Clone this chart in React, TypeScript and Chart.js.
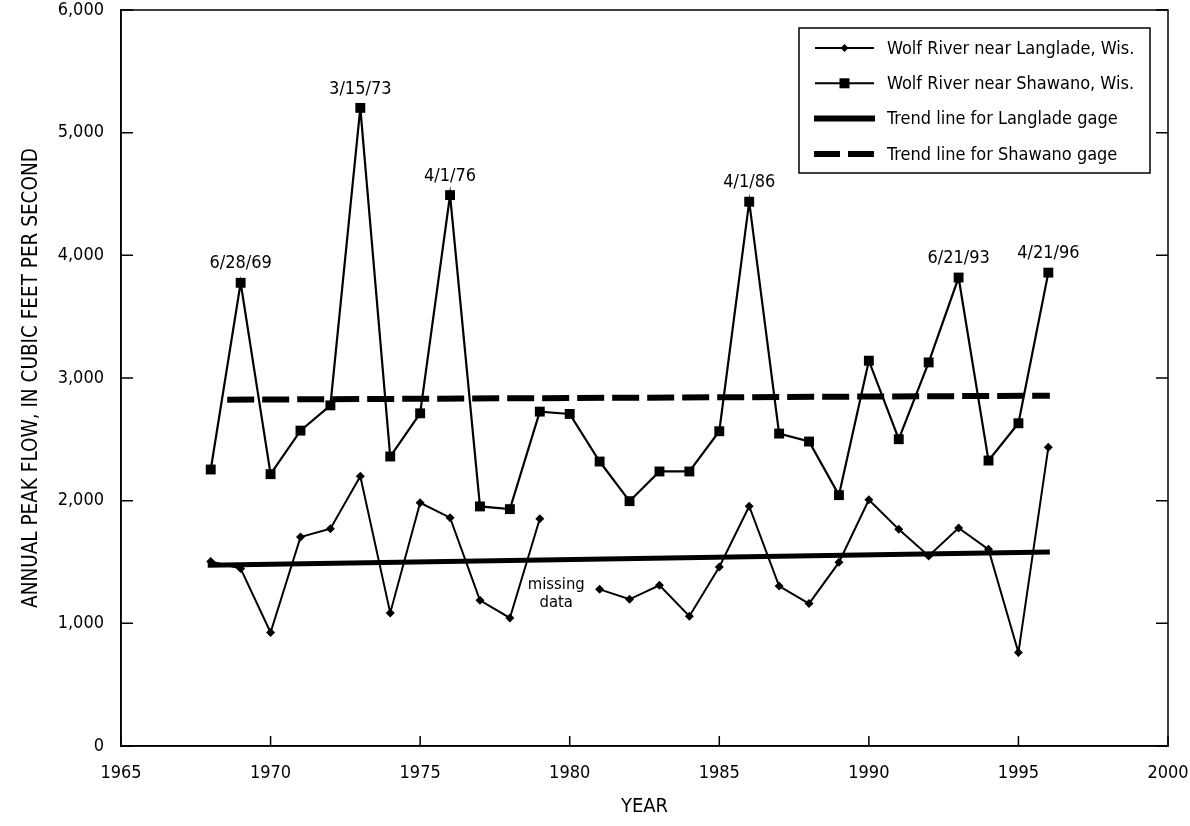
import React, { useEffect, useRef } from 'react';
import { Chart, registerables } from 'chart.js';

Chart.register(...registerables);

const FONT = "'Liberation Sans Narrow', 'DejaVu Sans Condensed', 'Arial Narrow', sans-serif";

// Data (annual peak flow, cubic feet per second)
const years = [1968, 1969, 1970, 1971, 1972, 1973, 1974, 1975, 1976, 1977, 1978, 1979, 1980, 1981, 1982, 1983, 1984, 1985, 1986, 1987, 1988, 1989, 1990, 1991, 1992, 1993, 1994, 1995, 1996];
const langlade = [1505, 1446, 925, 1703, 1771, 2199, 1085, 1983, 1861, 1188, 1044, 1853, null, 1277, 1196, 1310, 1058, 1459, 1955, 1304, 1161, 1497, 2007, 1766, 1549, 1777, 1603, 762, 2435];
const shawano = [2254, 3776, 2216, 2571, 2777, 5202, 2360, 2712, 4491, 1953, 1931, 2726, 2707, 2319, 1996, 2238, 2238, 2566, 4437, 2547, 2482, 2045, 3141, 2501, 3127, 3819, 2327, 2631, 3859];

const langladeTrendYears = [1967.9, 1996.05];
const langladeTrend = [1473, 1581];
const shawanoTrendYears = [1968.55, 1996.05];
const shawanoTrend = [2823, 2856];

const peakYears = [1969, 1973, 1976, 1986, 1993, 1996];
const peakLabels = ['6/28/69', '3/15/73', '4/1/76', '4/1/86', '6/21/93', '4/21/96'];

const missingNote = { year: 1979.55, value: 1318, lines: ['missing', 'data'] };

const xTicks = [1965, 1970, 1975, 1980, 1985, 1990, 1995, 2000];
const yTicks = [0, 1000, 2000, 3000, 4000, 5000, 6000];

const seriesLabels = [
  'Wolf River near Langlade, Wis.',
  'Wolf River near Shawano, Wis.',
  'Trend line for Langlade gage',
  'Trend line for Shawano gage',
];

const toPoints = (xs: number[], ys: (number | null)[]) => xs.map((x, i) => ({ x, y: ys[i] }));

const framePlugin = {
  id: 'frameTicks',
  afterDraw(chart: any) {
    const { ctx, chartArea, scales } = chart;
    const xs = scales.x;
    const ys = scales.y;
    ctx.save();
    ctx.strokeStyle = '#000';
    ctx.lineWidth = 1.5;
    ctx.strokeRect(chartArea.left, chartArea.top, chartArea.right - chartArea.left, chartArea.bottom - chartArea.top);
    ctx.beginPath();
    xTicks.forEach((t) => {
      const px = xs.getPixelForValue(t);
      ctx.moveTo(px, chartArea.bottom);
      ctx.lineTo(px, chartArea.bottom - 10);
    });
    yTicks.forEach((t) => {
      const py = ys.getPixelForValue(t);
      ctx.moveTo(chartArea.left, py);
      ctx.lineTo(chartArea.left + 12, py);
      ctx.moveTo(chartArea.right, py);
      ctx.lineTo(chartArea.right - 12, py);
    });
    ctx.stroke();
    ctx.restore();
  },
};

const annotationPlugin = {
  id: 'annotations',
  afterDatasetsDraw(chart: any) {
    const { ctx, scales } = chart;
    const xs = scales.x;
    const ys = scales.y;
    ctx.save();
    ctx.fillStyle = '#000';
    ctx.font = `18px ${FONT}`;
    ctx.textAlign = 'center';
    ctx.textBaseline = 'middle';
    peakYears.forEach((yr, i) => {
      const idx = years.indexOf(yr);
      const v = shawano[idx];
      const px = xs.getPixelForValue(yr);
      const py = ys.getPixelForValue(v);
      ctx.fillText(peakLabels[i], px, py - 19);
    });
    ctx.font = `16.5px ${FONT}`;
    const mx = xs.getPixelForValue(missingNote.year);
    const my = ys.getPixelForValue(missingNote.value);
    missingNote.lines.forEach((l, i) => ctx.fillText(l, mx, my + i * 18.5));
    ctx.restore();
  },
};

const legendPlugin = {
  id: 'customLegend',
  afterDraw(chart: any) {
    const { ctx, chartArea } = chart;
    const left = chartArea.right - 369;
    const right = chartArea.right - 18;
    const top = chartArea.top + 18;
    const bottom = top + 145;
    ctx.save();
    ctx.fillStyle = '#fff';
    ctx.fillRect(left, top, right - left, bottom - top);
    ctx.strokeStyle = '#000';
    ctx.lineWidth = 1.5;
    ctx.strokeRect(left, top, right - left, bottom - top);
    ctx.font = `18px ${FONT}`;
    ctx.textAlign = 'left';
    ctx.textBaseline = 'middle';
    ctx.fillStyle = '#000';
    const x0 = left + 16;
    const x1 = left + 75;
    seriesLabels.forEach((label, i) => {
      const y = top + 20 + i * 35.3;
      ctx.save();
      ctx.strokeStyle = '#000';
      if (i < 2) {
        ctx.lineWidth = 2;
        ctx.beginPath();
        ctx.moveTo(x0, y);
        ctx.lineTo(x1, y);
        ctx.stroke();
        const cx = (x0 + x1) / 2;
        ctx.fillStyle = '#000';
        if (i === 0) {
          ctx.beginPath();
          ctx.moveTo(cx, y - 4);
          ctx.lineTo(cx + 4, y);
          ctx.lineTo(cx, y + 4);
          ctx.lineTo(cx - 4, y);
          ctx.closePath();
          ctx.fill();
        } else {
          ctx.fillRect(cx - 5, y - 5, 10, 10);
        }
      } else {
        ctx.lineWidth = 6;
        if (i === 3) ctx.setLineDash([26, 8]);
        ctx.beginPath();
        ctx.moveTo(x0 - 1, y);
        ctx.lineTo(x1 + 1, y);
        ctx.stroke();
      }
      ctx.restore();
      ctx.fillText(label, left + 88, y + 1);
    });
    ctx.restore();
  },
};

export default function App() {
  const canvasRef = useRef<HTMLCanvasElement | null>(null);

  useEffect(() => {
    if (!canvasRef.current) return;
    const chart = new Chart(canvasRef.current, {
      type: 'line',
      data: {
        datasets: [
          {
            label: seriesLabels[0],
            data: toPoints(years, langlade),
            borderColor: '#000',
            backgroundColor: '#000',
            borderWidth: 2,
            pointStyle: 'rectRot',
            pointRadius: 4.5,
            pointBorderWidth: 0,
            spanGaps: false,
            tension: 0,
          },
          {
            label: seriesLabels[1],
            data: toPoints(years, shawano),
            borderColor: '#000',
            backgroundColor: '#000',
            borderWidth: 2.2,
            pointStyle: 'rect',
            pointRadius: 7,
            pointBorderWidth: 0,
            tension: 0,
          },
          {
            label: seriesLabels[2],
            data: toPoints(langladeTrendYears, langladeTrend),
            borderColor: '#000',
            borderWidth: 5,
            pointRadius: 0,
            borderCapStyle: 'butt',
          },
          {
            label: seriesLabels[3],
            data: toPoints(shawanoTrendYears, shawanoTrend),
            borderColor: '#000',
            borderWidth: 6,
            borderDash: [27, 8],
            pointRadius: 0,
            borderCapStyle: 'butt',
          },
        ],
      },
      options: {
        animation: false,
        responsive: true,
        maintainAspectRatio: false,
        layout: { padding: { top: 10, right: 22, left: 0, bottom: 0 } },
        plugins: { legend: { display: false }, tooltip: { enabled: false } },
        scales: {
          x: {
            type: 'linear',
            min: 1965,
            max: 2000,
            afterBuildTicks: (scale: any) => {
              scale.ticks = xTicks.map((v) => ({ value: v }));
            },
            afterFit: (scale: any) => {
              scale.height = 80;
              scale.paddingLeft = 0;
              scale.paddingRight = 0;
            },
            grid: { display: false, drawTicks: false },
            border: { display: true, color: '#000', width: 1.5 },
            ticks: {
              color: '#000',
              font: { family: FONT, size: 18 },
              padding: 17,
              maxRotation: 0,
              autoSkip: false,
              callback: (v: any) => String(v),
            },
            title: {
              display: true,
              text: 'YEAR',
              color: '#000',
              font: { family: FONT, size: 20 },
              padding: { top: 0, bottom: 7 },
            },
          },
          y: {
            min: 0,
            max: 6000,
            afterBuildTicks: (scale: any) => {
              scale.ticks = yTicks.map((v) => ({ value: v }));
            },
            afterFit: (scale: any) => {
              scale.width = 121;
              scale.paddingTop = 0;
              scale.paddingBottom = 0;
            },
            grid: { display: false, drawTicks: false },
            border: { display: true, color: '#000', width: 1.5 },
            ticks: {
              color: '#000',
              font: { family: FONT, size: 18 },
              padding: 17,
              callback: (v: any) => Number(v).toLocaleString('en-US'),
            },
            title: {
              display: true,
              text: 'ANNUAL PEAK FLOW, IN CUBIC FEET PER SECOND',
              color: '#000',
              font: { family: FONT, size: 20.5 },
              padding: { top: 19, bottom: 0 },
            },
          },
        },
      },
      plugins: [framePlugin, annotationPlugin, legendPlugin],
    } as any);
    return () => chart.destroy();
  }, []);

  return (
    <div style={{ position: 'fixed', left: 0, top: 0, width: 1190, height: 826, background: '#fff' }}>
      <canvas ref={canvasRef} />
    </div>
  );
}
